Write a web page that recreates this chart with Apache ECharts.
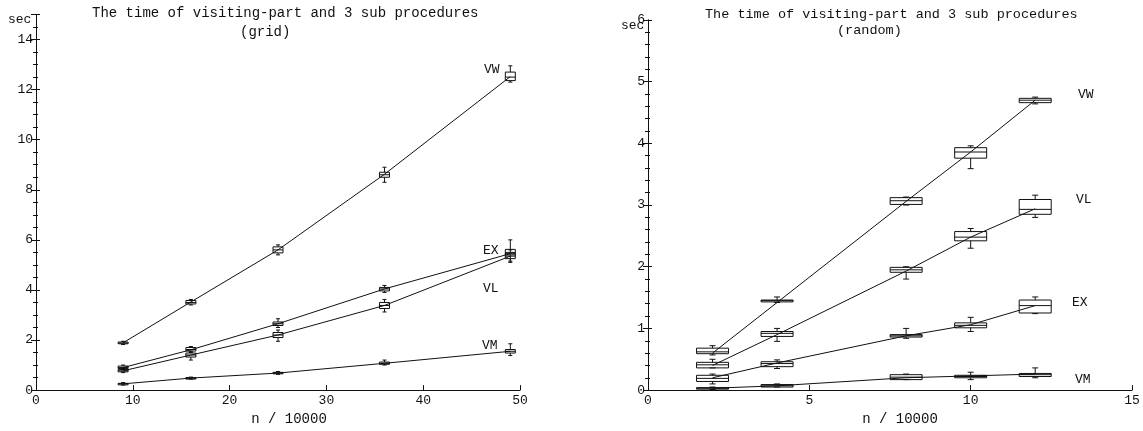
<!DOCTYPE html>
<html>
<head>
<meta charset="utf-8">
<script src="https://cdn.jsdelivr.net/npm/echarts@6/dist/echarts.min.js"></script>
<style>html,body{margin:0;padding:0;background:#fff;}#c{width:1143px;height:431px;}</style>
</head>
<body>
<div id="c"></div>
<script>
// ---------- data ----------
const gridX = [9, 16, 25, 36, 49];          // n / 10000 (grid)
const randX = [2, 4, 8, 10, 12];            // n / 10000 (random)

const gridVW = [1.89, 3.52, 5.6, 8.62, 12.52];
const gridEX = [0.9, 1.61, 2.65, 4.04, 5.45];
const gridVL = [0.77, 1.4, 2.2, 3.38, 5.35];
const gridVM = [0.25, 0.48, 0.68, 1.07, 1.55];

// box stats: [min, Q1, median, Q3, max]
const gridVWBox = [[1.82,1.85,1.88,1.92,1.95],[3.4,3.44,3.5,3.58,3.62],[5.4,5.48,5.6,5.72,5.8],[8.3,8.5,8.6,8.7,8.9],[12.3,12.36,12.5,12.7,12.95]];
const gridEXBox = [[0.82,0.86,0.9,0.96,1.0],[1.5,1.56,1.62,1.7,1.74],[2.5,2.58,2.65,2.72,2.85],[3.9,3.96,4.04,4.1,4.18],[5.15,5.4,5.5,5.62,6.0]];
const gridVLBox = [[0.7,0.73,0.77,0.82,0.86],[1.2,1.32,1.4,1.48,1.55],[1.95,2.1,2.2,2.3,2.4],[3.12,3.26,3.38,3.5,3.62],[5.1,5.25,5.35,5.45,5.6]];
const gridVMBox = [[0.2,0.23,0.25,0.27,0.3],[0.44,0.46,0.48,0.5,0.52],[0.63,0.65,0.68,0.71,0.74],[1.0,1.03,1.07,1.12,1.2],[1.38,1.48,1.55,1.62,1.85]];

const randVW = [0.6, 1.42, 3.06, 3.86, 4.7];
const randVL = [0.4, 0.9, 1.93, 2.48, 2.94];
const randEX = [0.2, 0.44, 0.88, 1.06, 1.37];
const randVM = [0.03, 0.07, 0.2, 0.23, 0.26];

const randVWBox = [[0.57,0.59,0.62,0.68,0.72],[1.42,1.43,1.45,1.46,1.51],[3.0,3.01,3.07,3.12,3.13],[3.59,3.76,3.86,3.93,3.96],[4.64,4.66,4.7,4.73,4.75]];
const randVLBox = [[0.36,0.36,0.41,0.45,0.5],[0.79,0.87,0.92,0.95,1.0],[1.8,1.91,1.95,1.99,2.0],[2.3,2.42,2.48,2.57,2.62],[2.8,2.85,2.93,3.09,3.16]];
const randEXBox = [[0.1,0.14,0.19,0.24,0.26],[0.35,0.38,0.43,0.46,0.49],[0.84,0.86,0.88,0.9,1.0],[0.95,1.01,1.05,1.09,1.18],[1.24,1.25,1.37,1.46,1.51]];
const randVMBox = [[0.01,0.02,0.03,0.04,0.05],[0.05,0.05,0.07,0.09,0.1],[0.17,0.17,0.21,0.25,0.26],[0.17,0.2,0.22,0.24,0.29],[0.2,0.22,0.25,0.27,0.36]];

const yTicksGrid = { min: 0, max: 15, interval: 2 };
const yTicksRand = { min: 0, max: 6, interval: 1 };
const xTicksGrid = { min: 0, max: 50, interval: 10 };
const xTicksRand = { min: 0, max: 15, interval: 5 };

// ---------- chart ----------
const FONT = 'Liberation Mono';
const INK = '#111';

function boxData(xs, boxes) {
  return boxes.map((b, i) => [xs[i]].concat(b));
}
function boxRenderer(halfW, capW) {
  return function (params, api) {
    const x = api.value(0);
    const p = i => api.coord([x, api.value(i)]);
    const pMin = p(1), pQ1 = p(2), pMed = p(3), pQ3 = p(4), pMax = p(5);
    const cx = pMin[0];
    const st = { stroke: INK, lineWidth: 1, fill: null };
    return {
      type: 'group',
      children: [
        { type: 'rect', shape: { x: cx - halfW, y: pQ3[1], width: 2 * halfW, height: Math.max(pQ1[1] - pQ3[1], 1.5) },
          style: { stroke: INK, lineWidth: 1, fill: 'rgba(0,0,0,0)' } },
        { type: 'line', shape: { x1: cx - halfW, y1: pMed[1], x2: cx + halfW, y2: pMed[1] }, style: st },
        { type: 'line', shape: { x1: cx, y1: pQ3[1], x2: cx, y2: pMax[1] }, style: st },
        { type: 'line', shape: { x1: cx, y1: pQ1[1], x2: cx, y2: pMin[1] }, style: st },
        { type: 'line', shape: { x1: cx - capW, y1: pMax[1], x2: cx + capW, y2: pMax[1] }, style: st },
        { type: 'line', shape: { x1: cx - capW, y1: pMin[1], x2: cx + capW, y2: pMin[1] }, style: st }
      ]
    };
  };
}
function lineSeries(name, xs, ys, idx) {
  return {
    type: 'line', name: name, xAxisIndex: idx, yAxisIndex: idx * 2,
    data: xs.map((x, i) => [x, ys[i]]),
    showSymbol: false, symbol: 'none', silent: true, animation: false,
    lineStyle: { color: INK, width: 1 }
  };
}
function yAxisPair(gridIndex, ticks, minorSplit) {
  const base = {
    type: 'value', gridIndex: gridIndex, position: 'left',
    min: ticks.min, max: ticks.max, interval: ticks.interval,
    splitLine: { show: false },
    minorSplitLine: { show: false },
    axisLine: { show: true, lineStyle: { color: INK, width: 1 } }
  };
  return [
    Object.assign({}, base, {
      axisTick: { show: true, inside: false, length: 5, lineStyle: { color: INK } },
      minorTick: { show: true, splitNumber: minorSplit, length: 3, lineStyle: { color: INK } },
      axisLabel: { show: true, margin: 3, fontFamily: FONT, fontSize: 13, color: INK, showMaxLabel: ticks.max % ticks.interval === 0 }
    }),
    Object.assign({}, base, {
      axisTick: { show: true, inside: true, length: 4, lineStyle: { color: INK } },
      minorTick: { show: true, splitNumber: minorSplit, length: 2, lineStyle: { color: INK } },
      axisLabel: { show: false }
    })
  ];
}
function xAxis(gridIndex, ticks, nameGap, shift) {
  return {
    type: 'value', gridIndex: gridIndex,
    min: ticks.min, max: ticks.max, interval: ticks.interval,
    name: 'n / 10000', nameLocation: 'middle', nameGap: nameGap,
    nameTextStyle: { fontFamily: FONT, fontSize: 14, color: INK, padding: [0, 0, 0, shift] },
    splitLine: { show: false },
    axisLine: { show: true, onZero: false, lineStyle: { color: INK, width: 1 } },
    axisTick: { show: true, inside: true, length: 5, lineStyle: { color: INK } },
    axisLabel: { margin: 4, fontFamily: FONT, fontSize: 13, color: INK }
  };
}
function label(text, x, y) {
  return { type: 'text', left: x, top: y, style: { text: text, fontFamily: FONT, fontSize: 13, fill: INK } };
}
const tstyle = size => ({ fontFamily: FONT, fontSize: size, fontWeight: 'normal', color: INK });

const chart = echarts.init(document.getElementById('c'), null, { renderer: 'canvas' });
chart.setOption({
  backgroundColor: '#fff',
  animation: false,
  title: [
    { text: 'The time of visiting-part and 3 sub procedures', left: 92, top: 6, padding: 0, textStyle: tstyle(14) },
    { text: '(grid)', left: 240, top: 25, padding: 0, textStyle: tstyle(14) },
    { text: 'The time of visiting-part and 3 sub procedures', left: 705, top: 7, padding: 0, textStyle: tstyle(13.5) },
    { text: '(random)', left: 837, top: 23, padding: 0, textStyle: tstyle(13.5) }
  ],
  grid: [
    { left: 36, right: 623, top: 14.5, bottom: 34 },
    { left: 648, right: 11, top: 20, bottom: 31 }
  ],
  xAxis: [xAxis(0, xTicksGrid, 14, 22), xAxis(1, xTicksRand, 16, 20)],
  yAxis: [].concat(yAxisPair(0, yTicksGrid, 4), yAxisPair(1, yTicksRand, 5)),
  graphic: [
    label('sec', 8, 13), label('sec', 621, 19),
    label('VW', 484, 63), label('EX', 483, 244), label('VL', 483, 282), label('VM', 482, 339),
    label('VW', 1078, 88), label('VL', 1076, 193), label('EX', 1072, 296), label('VM', 1075, 373)
  ],
  series: [
    lineSeries('VW', gridX, gridVW, 0),
    lineSeries('EX', gridX, gridEX, 0),
    lineSeries('VL', gridX, gridVL, 0),
    lineSeries('VM', gridX, gridVM, 0),
    {
      type: 'custom', xAxisIndex: 0, yAxisIndex: 0, silent: true, clip: false,
      encode: { x: 0, y: [1, 2, 3, 4, 5] },
      renderItem: boxRenderer(5, 2),
      data: [].concat(boxData(gridX, gridVWBox), boxData(gridX, gridEXBox), boxData(gridX, gridVLBox), boxData(gridX, gridVMBox))
    },
    lineSeries('VW', randX, randVW, 1),
    lineSeries('VL', randX, randVL, 1),
    lineSeries('EX', randX, randEX, 1),
    lineSeries('VM', randX, randVM, 1),
    {
      type: 'custom', xAxisIndex: 1, yAxisIndex: 2, silent: true, clip: false,
      encode: { x: 0, y: [1, 2, 3, 4, 5] },
      renderItem: boxRenderer(16, 3),
      data: [].concat(boxData(randX, randVWBox), boxData(randX, randVLBox), boxData(randX, randEXBox), boxData(randX, randVMBox))
    }
  ]
});
</script>
</body>
</html>
